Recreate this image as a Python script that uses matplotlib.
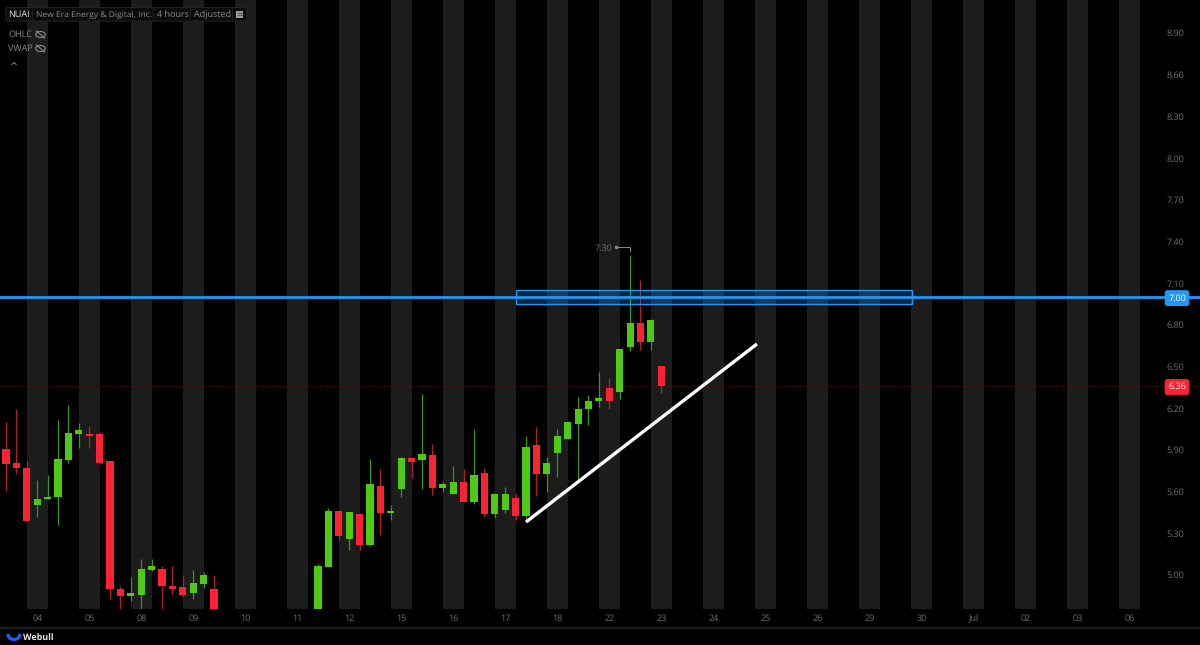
import numpy as np
import matplotlib
matplotlib.use('Agg')
import matplotlib.pyplot as plt
from matplotlib.patches import Rectangle, FancyBboxPatch, Ellipse, Arc
from matplotlib.transforms import blended_transform_factory

plt.rcParams['font.family'] = ['Open Sans', 'DejaVu Sans']
plt.rcParams['text.hinting'] = 'no_hinting'

# 4 hour bars, five per session, sessions 10 and 11 have no bars until late
bar_index = list(range(0, 21)) + list(range(30, 64))
opens = [5.904, 5.803, 5.772, 5.506, 5.547, 5.559, 5.827, 6.017, 6.012, 6.015, 5.823,
         4.899, 4.847, 4.859, 5.039, 5.041, 4.921, 4.911, 4.868, 4.938, 4.899,
         4.700, 5.058, 5.463, 5.259, 5.441, 5.216, 5.640, 5.449, 5.619, 5.842, 5.827,
         5.861, 5.628, 5.585, 5.672, 5.528, 5.732, 5.437, 5.468, 5.552, 5.427, 5.933,
         5.727, 5.878, 5.979, 6.089, 6.197, 6.249, 6.343, 6.319, 6.638, 6.813, 6.679, 6.504]
closes = [5.799, 5.768, 5.389, 5.545, 5.564, 5.832, 6.024, 6.043, 5.998, 5.808, 4.899,
          4.849, 4.873, 5.041, 5.063, 4.919, 4.902, 4.854, 4.943, 5.003, 4.700,
          5.063, 5.463, 5.278, 5.451, 5.216, 5.652, 5.449, 5.463, 5.842, 5.815, 5.871,
          5.628, 5.652, 5.672, 5.528, 5.722, 5.437, 5.583, 5.583, 5.427, 5.921, 5.727,
          5.803, 6.003, 6.103, 6.192, 6.252, 6.273, 6.249, 6.624, 6.813, 6.679, 6.835, 6.360]
highs = [6.103, 6.194, 5.823, 5.684, 5.722, 6.115, 6.223, 6.094, 6.072, 6.031, 5.823,
         4.921, 4.983, 5.113, 5.113, 5.063, 5.063, 5.000, 5.034, 5.022, 5.000,
         5.082, 5.482, 5.463, 5.451, 5.441, 5.832, 5.763, 5.501, 5.851, 5.842, 6.302,
         5.943, 5.669, 5.782, 5.763, 6.053, 5.772, 5.588, 5.633, 5.583, 6.003, 6.062,
         5.851, 6.053, 6.103, 6.283, 6.295, 6.463, 6.415, 6.624, 7.302, 7.122, 6.842, 6.504]
lows = [5.607, 5.727, 5.389, 5.417, 5.547, 5.357, 5.808, 5.916, 5.916, 5.799, 4.828,
        4.650, 4.816, 4.650, 5.027, 4.650, 4.863, 4.840, 4.828, 4.907, 4.650,
        4.650, 5.058, 5.247, 5.178, 5.178, 5.209, 5.288, 5.398, 5.559, 5.698, 5.619,
        5.578, 5.600, 5.585, 5.528, 5.509, 5.417, 5.408, 5.449, 5.398, 5.398, 5.568,
        5.597, 5.708, 5.979, 5.684, 6.079, 6.211, 6.197, 6.269, 6.609, 6.619, 6.619, 6.307]

day_labels = ['04', '05', '08', '09', '10', '11', '12', '15', '16', '17', '18', '22',
              '23', '24', '25', '26', '29', '30', 'Jul', '02', '03', '06']
price_ticks = [5.00, 5.30, 5.60, 5.90, 6.20, 6.50, 6.80, 7.10, 7.40, 7.70, 8.00, 8.30, 8.60, 8.90]

level_price = 7.00
last_price = 6.36
peak_price = 7.30
zone_low, zone_high = 6.95, 7.05
zone_start, zone_end = 49.05, 87.1
trend_x = [50.0, 72.2]
trend_y = [5.381, 6.662]

GREEN = '#4ec915'
RED = '#fb2233'
GREEN_WICK = '#3b9a10'
RED_WICK = '#b51d2a'
BLUE = '#2196f3'
GREY = '#6f6f6f'

fig = plt.figure(figsize=(12, 6.45), dpi=100, facecolor='black')
ax = fig.add_axes([0, 36 / 645, 1, 609 / 645], facecolor='black')
ax.set_xlim(-0.577, 114.8)
ax.set_ylim(4.755, 9.137)
for s in ax.spines.values():
    s.set_visible(False)

# session bands and date labels
day_pos = [3 + 5 * i for i in range(len(day_labels))]
for p in day_pos:
    ax.axvspan(p - 1, p + 1, color='#1c1c1c', lw=0, zorder=0)
ax.set_xticks([p + 0.05 for p in day_pos])
ax.set_xticklabels(day_labels)
ax.tick_params(axis='x', length=0, pad=4, labelsize=6.5, labelcolor=GREY)

ax.yaxis.tick_right()
ax.set_yticks(price_ticks)
ax.set_yticklabels(['%.2f' % p for p in price_ticks])
ax.tick_params(axis='y', length=0, pad=-24, labelsize=6.5, labelcolor=GREY)

# candles
for i, o, h, l, c in zip(bar_index, opens, highs, lows, closes):
    up = c >= o
    ax.vlines(i, l, h, color=GREEN_WICK if up else RED_WICK, lw=0.9, zorder=2)
    ax.bar(i, abs(c - o), bottom=min(o, c), width=0.68, color=GREEN if up else RED,
           lw=0, zorder=3)

# last price, level and zone
ax.axhline(last_price, color='#5a1016', lw=0.8, ls=(0, (1, 1.5)), zorder=1)
ax.add_patch(Rectangle((zone_start, zone_low), zone_end - zone_start, zone_high - zone_low,
                       facecolor=BLUE, alpha=0.25, lw=0, zorder=4))
ax.add_patch(Rectangle((zone_start, zone_low), zone_end - zone_start, zone_high - zone_low,
                       facecolor='none', edgecolor=BLUE, lw=1.0, zorder=4))
ax.axhline(level_price, color=BLUE, lw=2.0, zorder=5)
ax.plot(trend_x, trend_y, color='white', lw=2.4, solid_capstyle='butt', zorder=5)

tr = blended_transform_factory(ax.transAxes, ax.transData)
for val, col in [(level_price, BLUE), (last_price, RED)]:
    ax.text(1177 / 1200, val, '%.2f' % val, transform=tr, color='white', fontsize=6.5,
            ha='center', va='center_baseline', zorder=7,
            bbox=dict(boxstyle='round,pad=0.38,rounding_size=0.3', fc=col, ec='none'))

# peak marker
ax.text(58.3, peak_price + 0.05, '%.2f' % peak_price, color=GREY, fontsize=6.5,
        ha='right', va='center', zorder=6)
ax.plot([58.65, 60, 60], [peak_price + 0.06, peak_price + 0.06, peak_price + 0.03],
        color='#8a8a8a', lw=0.7, zorder=6)
ax.plot([58.65], [peak_price + 0.06], 'o', color='#8a8a8a', ms=1.5, zorder=6)

# header, legend and footer drawn in figure pixels
ui = fig.add_axes([0, 0, 1, 1], facecolor='none')
ui.set_xlim(0, 1200)
ui.set_ylim(645, 0)
ui.axis('off')

ui.add_patch(FancyBboxPatch((6, 7.5), 241, 13.5, boxstyle='round,pad=0,rounding_size=2',
                            fc='#0b0b0b', ec='#222222', lw=0.8))
for x in [32, 153, 190, 232]:
    ui.plot([x, x], [8, 21], color='#1e1e1e', lw=0.7)
ui.text(8.5, 15, 'NUAI', color='#e6e6e6', fontsize=6.5, va='center')
ui.text(36, 15, 'New Era Energy & Digital, Inc.', color='#8a8a8a', fontsize=6.1, va='center')
ui.text(157, 15, '4 hours', color='#8a8a8a', fontsize=6.5, va='center')
ui.text(194, 15, 'Adjusted', color='#8a8a8a', fontsize=6.5, va='center')
ui.add_patch(Rectangle((236, 11), 7, 7, fc='#9a9a9a', ec='none'))
ui.plot([237.5, 241.5], [13, 13], color='#333333', lw=0.5)
ui.plot([237.5, 241.5], [15, 15], color='#333333', lw=0.5)

for name, y in [('OHLC', 34.5), ('VWAP', 48.5)]:
    ui.text(8.5, y, name, color='#8a8a8a', fontsize=6.5, va='center')
    ui.add_patch(Ellipse((40.5, y), 9.5, 6, fc='none', ec='#8a8a8a', lw=0.8))
    ui.plot([36.5, 44.5], [y - 3.5, y + 3.5], color='#8a8a8a', lw=0.8)
ui.plot([11.8, 14, 16.2], [64.5, 62.5, 64.5], color='#8a8a8a', lw=0.7)

ui.plot([0, 1200], [627.8, 627.8], color='#1d1d1d', lw=1.6)
ui.add_patch(Arc((14, 634), 12, 11, theta1=0, theta2=180, color='#1f5cf5', lw=2.4))
ui.text(23, 637.5, 'Webull', color='#e8e8e8', fontsize=6.4, fontweight='bold', va='center')

fig.savefig('out.png', dpi=100, facecolor='black')
